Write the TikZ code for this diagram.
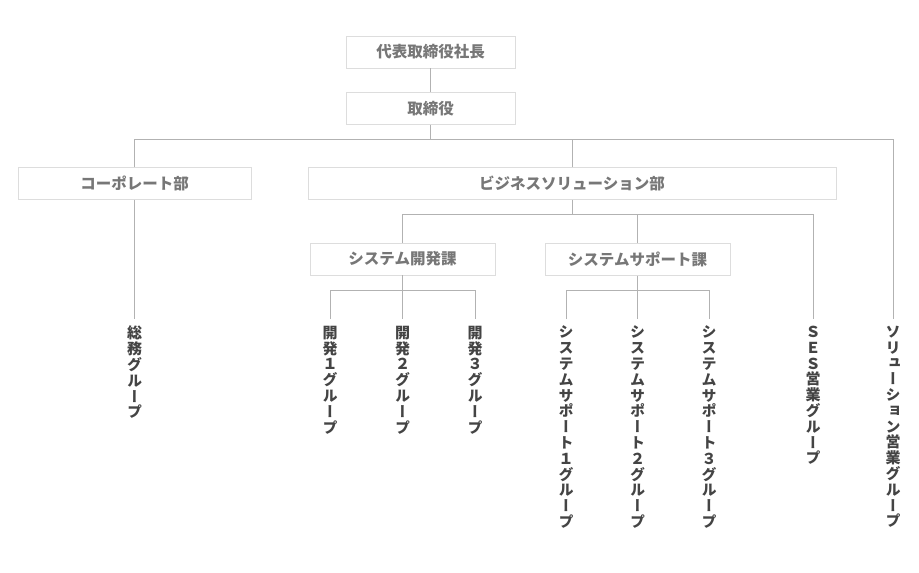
\documentclass[tikz,border=0pt]{standalone}
\usepackage{fontspec}
\setmainfont{Noto Sans CJK JP}
\newfontfamily\tatefont[RawFeature=+vert]{Noto Sans CJK JP}
\usetikzlibrary{positioning}

\definecolor{boxline}{HTML}{DDDDDD}
\definecolor{linkline}{HTML}{B2B2B2}
\definecolor{boxtext}{HTML}{777777}
\definecolor{grouptext}{HTML}{444444}

% one character per line, for the upright group names
\newcommand\tate[1]{\tatefirst#1\relax}
\def\tatefirst#1{#1\tatenext}
\def\tatenext#1{\ifx#1\relax\else\\#1\expandafter\tatenext\fi}

\tikzset{
  orgbox/.style={draw=boxline, fill=white, text=boxtext, inner sep=0pt,
    minimum height=32pt, font=\bfseries\fontsize{15.5}{18}\selectfont},
  grouplabel/.style={anchor=north, align=center, inner sep=0pt, outer ysep=7pt,
    text=grouptext, font=\tatefont\bfseries\fontsize{15}{15.8}\selectfont},
  link/.style={draw=linkline, line width=1pt}
}

\begin{document}
\begin{tikzpicture}[x=1pt, y=-1pt]
\useasboundingbox (0,0) rectangle (919,573);

\coordinate (topbus) at (0,139);
\coordinate (bizbus) at (0,214);
\coordinate (devbus) at (0,290);

% boxes
\node[orgbox, minimum width=169pt] (ceo) at (430.5,52) {代表取締役社長};
\node[orgbox, minimum width=169pt] (board) at (430.5,108.5) {取締役};
\node[orgbox, minimum width=233pt] (corp) at (134.5,183.5) {コーポレート部};
\node[orgbox, minimum width=528pt] (biz) at (572,183.5) {ビジネスソリューション部};
\node[orgbox, minimum width=185pt] (dev) at (402.5,259) {システム開発課};
\node[orgbox, minimum width=185pt] (sup) at (637.5,259.5) {システムサポート課};

% groups
\node[grouplabel] (soumu) at (134.5,319) {\tate{総務グループ}};
\node[grouplabel] (dev1) at (330,319) {\tate{開発１グループ}};
\node[grouplabel] (dev2) at (402.5,319) {\tate{開発２グループ}};
\node[grouplabel] (dev3) at (475,319) {\tate{開発３グループ}};
\node[grouplabel] (sup1) at (566,319) {\tate{システムサポート１グループ}};
\node[grouplabel] (sup2) at (637.5,319) {\tate{システムサポート２グループ}};
\node[grouplabel] (sup3) at (709,319) {\tate{システムサポート３グループ}};
\node[grouplabel] (ses) at (813,319) {\tate{ＳＥＳ営業グループ}};
\node[grouplabel] (solsales) at (893,319) {\tate{ソリューション営業グループ}};

% lines
\draw[link] (ceo) -- (board);
\draw[link] (board.south) -- (board.south |- topbus);
\draw[link] (corp.north) -- (corp.north |- topbus) -| (solsales.north);
\draw[link] (biz.north) -- (biz.north |- topbus);
\draw[link] (corp.south) -- (soumu.north);

\draw[link] (biz.south) -- (biz.south |- bizbus);
\draw[link] (dev.north) -- (dev.north |- bizbus) -| (ses.north);
\draw[link] (sup.north) -- (sup.north |- bizbus);

\draw[link] (dev1.north) -- (dev1.north |- devbus) -| (dev3.north);
\draw[link] (dev.south) -- (dev2.north);
\draw[link] (sup1.north) -- (sup1.north |- devbus) -| (sup3.north);
\draw[link] (sup.south) -- (sup2.north);
\end{tikzpicture}
\end{document}
